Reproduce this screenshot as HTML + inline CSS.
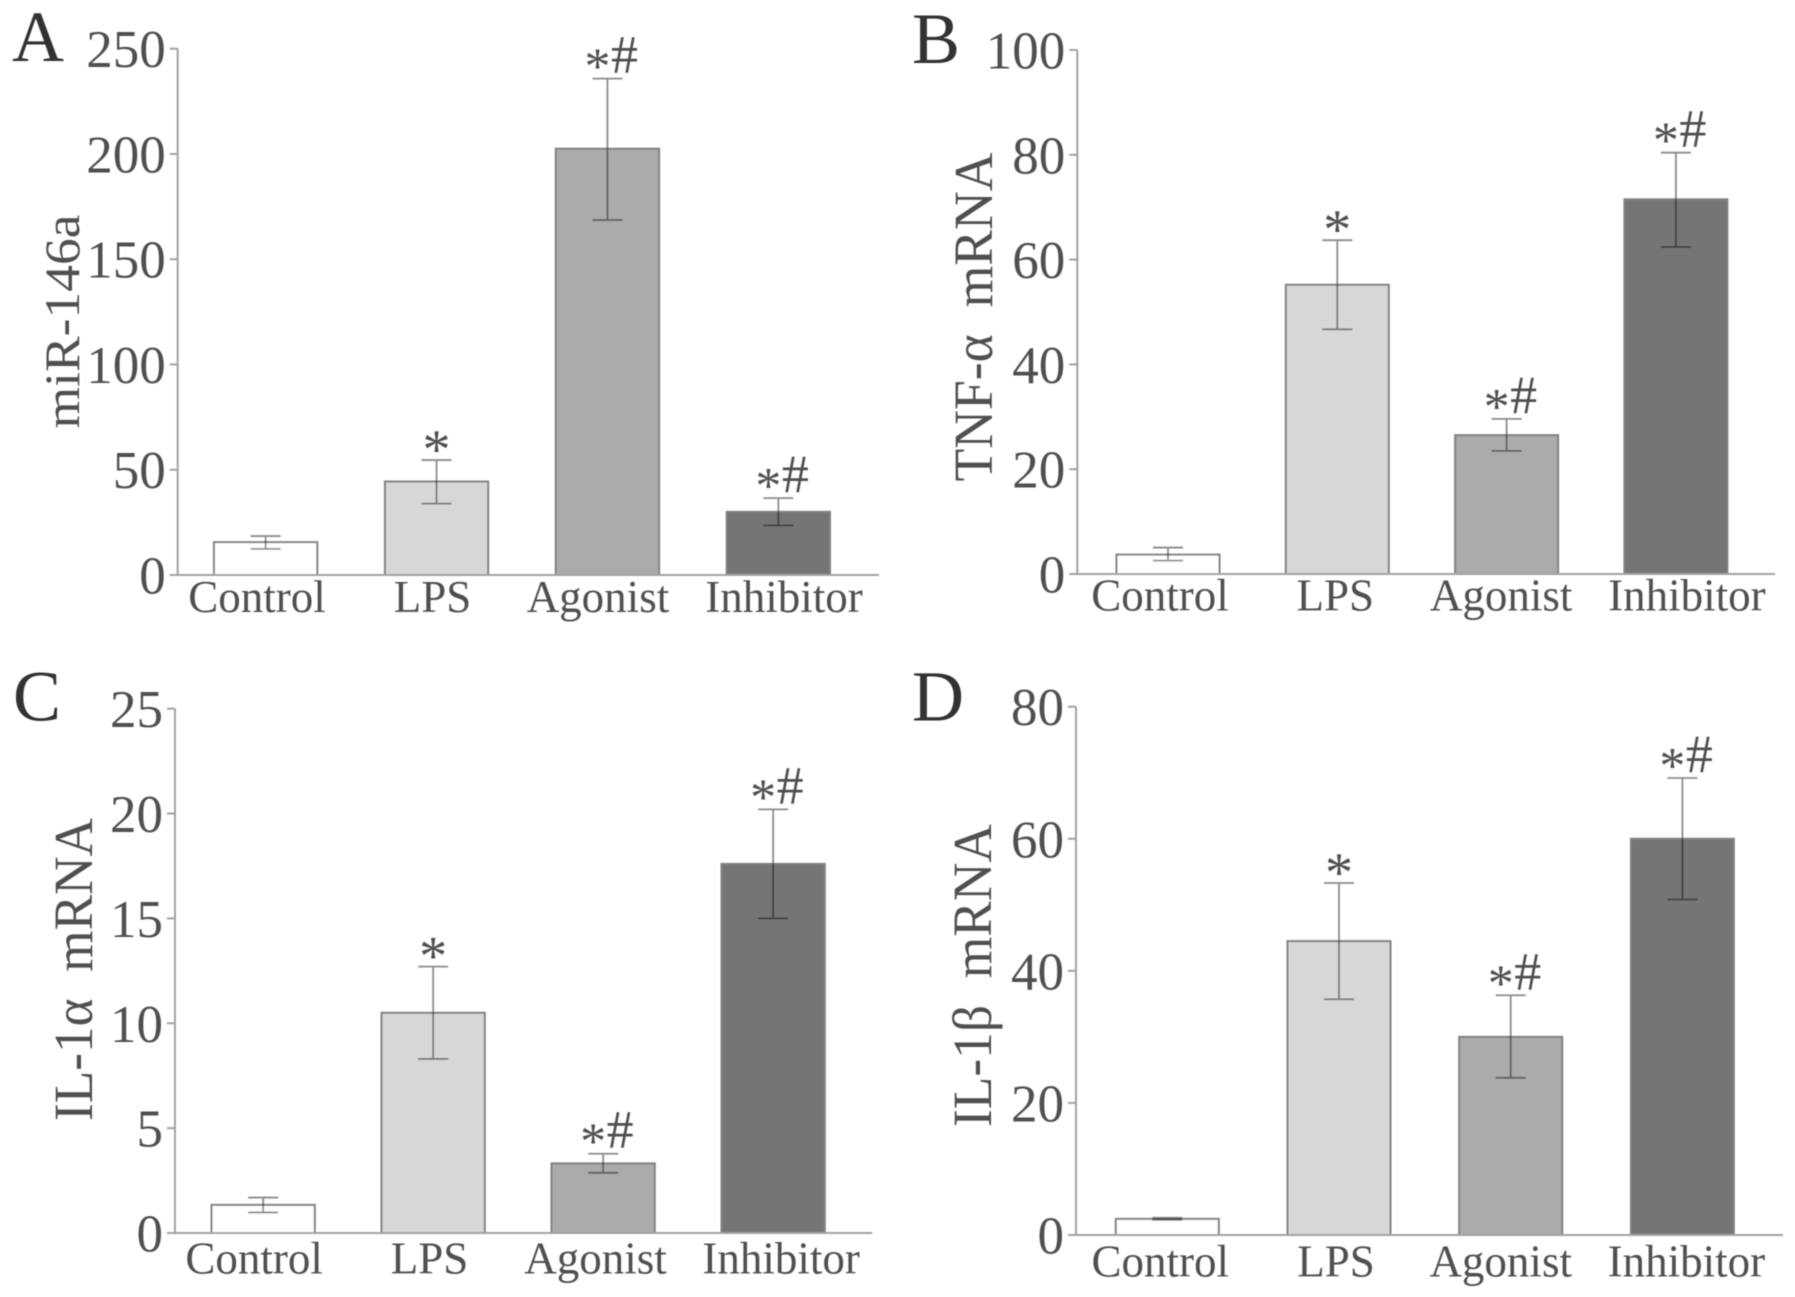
<!DOCTYPE html>
<html lang="en">
<head>
<meta charset="utf-8">
<title>miR-146a and cytokine mRNA bar charts</title>
<style>
html,body{margin:0;padding:0;background:#fff;}
svg{display:block;}
text{font-family:"Liberation Serif","DejaVu Serif",serif;fill:#505050;}
</style>
</head>
<body>
<svg id="figure" width="1795" height="1297" viewBox="0 0 1795 1297" xmlns="http://www.w3.org/2000/svg">
<defs><filter id="soft" x="-5%" y="-5%" width="110%" height="110%"><feGaussianBlur stdDeviation="0.55"/></filter></defs>
<g id="root" filter="url(#soft)"></g>
</svg>
<script>
const categories = ['Control', 'LPS', 'Agonist', 'Inhibitor'];
const marks = ['', '*', '*#', '*#'];

const ticksA = [0, 50, 100, 150, 200, 250];
const valuesA = [15.6, 44.4, 202.5, 30];
const errHighA = [18.5, 54.6, 235.8, 36.5];
const errLowA = [12.4, 33.9, 168.6, 23.5];

const ticksB = [0, 20, 40, 60, 80, 100];
const valuesB = [3.7, 55.2, 26.5, 71.5];
const errHighB = [5.05, 63.7, 29.6, 80.4];
const errLowB = [2.55, 46.7, 23.5, 62.4];

const ticksC = [0, 5, 10, 15, 20, 25];
const valuesC = [1.34, 10.5, 3.32, 17.6];
const errHighC = [1.69, 12.7, 3.78, 20.2];
const errLowC = [0.98, 8.3, 2.87, 15.0];

const ticksD = [0, 20, 40, 60, 80];
const valuesD = [2.44, 44.5, 30, 60];
const errHighD = [2.6, 53.3, 36.3, 69.2];
const errLowD = [2.3, 35.7, 23.8, 50.8];

const barFills = ['#ffffff', '#d7d7d7', '#ababab', '#747474'];
const NS = 'http://www.w3.org/2000/svg';
const root = document.getElementById('root');

function make(tag, parent, attrs, content) {
  const el = document.createElementNS(NS, tag);
  for (const k in attrs) el.setAttribute(k, attrs[k]);
  if (content !== undefined) el.textContent = content;
  parent.appendChild(el);
  return el;
}

function drawPanel(p) {
  const yMax = p.ticks[p.ticks.length - 1];
  const yScale = v => p.bottom - (v / yMax) * (p.bottom - p.top);
  const barX = i => p.barStart + i * p.barStep;
  const barCenter = i => barX(i) + p.barWidth / 2;

  const g = make('g', root, {});
  
  

  const letter = make('text', g, {x: p.letterX, y: p.letterY, 'font-size': 72, style: 'fill:#333'}, p.letter);
  
  

  const title = make('text', g, {
    transform: 'translate(' + p.titleX + ',' + p.titleY + ') rotate(-90)',
    'text-anchor': 'middle', 'font-size': p.titleSize,
    textLength: p.titleLength, lengthAdjust: 'spacingAndGlyphs'
  }, p.title);
  
  

  categories.forEach((name, i) => {
    const bar = make('rect', g, {
      x: barX(i), y: yScale(p.values[i]), width: p.barWidth,
      height: p.bottom - yScale(p.values[i]),
      fill: barFills[i], stroke: '#828282', 'stroke-width': 2
    });
    
    

    const cx = barCenter(i);
    const hi = yScale(p.errHigh[i]);
    const lo = yScale(p.errLow[i]);
    const err = make('path', g, {
      d: 'M' + cx + ' ' + hi + 'V' + lo + 'M' + (cx - 15) + ' ' + hi + 'H' + (cx + 15) + 'M' + (cx - 15) + ' ' + lo + 'H' + (cx + 15),
      fill: 'none', stroke: '#000', 'stroke-opacity': 0.45, 'stroke-width': 1.8
    });
    
    

    const mark = marks[i];
    if (mark === '*') {
      const star = make('text', g, {x: cx, y: hi + 8, 'text-anchor': 'middle', 'font-size': 56}, '*');
      
      
    } else if (mark === '*#') {
      const star = make('text', g, {x: cx - 10, y: hi + 5, 'text-anchor': 'middle', 'font-size': 52}, '*');
      
      
      const hash = make('text', g, {x: cx + 17, y: hi - 6, 'text-anchor': 'middle', 'font-size': 54}, '#');
      
      
    }

    const label = make('text', g, {
      x: cx + p.labelShift[i], y: p.labelY, 'text-anchor': 'middle', 'font-size': 45
    }, name);
    
    
  });

  const yAxis = make('line', g, {x1: p.axisX, x2: p.axisX, y1: p.top, y2: p.bottom, stroke: '#a2a2a2', 'stroke-width': 2});
  
  

  const xAxis = make('line', g, {x1: p.axisX - 8, x2: p.axisEnd, y1: p.bottom, y2: p.bottom, stroke: '#a2a2a2', 'stroke-width': 2});
  
  

  p.ticks.forEach(t => {
    const y = yScale(t);
    const tick = make('line', g, {x1: p.axisX - 8, x2: p.axisX, y1: y, y2: y, stroke: '#a2a2a2', 'stroke-width': 2});
    
    
    const lab = make('text', g, {x: p.axisX - 12, y: y + 18.5, 'text-anchor': 'end', 'font-size': 53}, String(t));
    
    
  });
}

drawPanel({letter: 'A', letterX: 12, letterY: 61, title: 'miR-146a', titleX: 79, titleY: 321.5, titleLength: 214, titleSize: 50,
  axisX: 177.7, axisEnd: 879, top: 48.7, bottom: 575, barStart: 214, barStep: 170.9, barWidth: 103.3, labelY: 612, labelShift: [-8.7, -4, -9.5, 5.7],
  ticks: ticksA, values: valuesA, errHigh: errHighA, errLow: errLowA});

drawPanel({letter: 'B', letterX: 912, letterY: 63, title: 'TNF-α\u00a0\u00a0mRNA', titleX: 992, titleY: 317, titleLength: 329, titleSize: 55,
  axisX: 1077.3, axisEnd: 1775, top: 50, bottom: 574, barStart: 1116.5, barStep: 169.3, barWidth: 103, labelY: 610.5, labelShift: [-8, -2, -5.5, 11],
  ticks: ticksB, values: valuesB, errHigh: errHighB, errLow: errLowB});

drawPanel({letter: 'C', letterX: 13, letterY: 720.7, title: 'IL-1α\u00a0\u00a0mRNA', titleX: 92, titleY: 969.5, titleLength: 303, titleSize: 55,
  axisX: 175, axisEnd: 872.3, top: 708.7, bottom: 1233, barStart: 211.5, barStep: 170, barWidth: 103.3, labelY: 1273.5, labelShift: [-9, -3.6, -7.6, 8],
  ticks: ticksC, values: valuesC, errHigh: errHighC, errLow: errLowC});

drawPanel({letter: 'D', letterX: 912, letterY: 720.7, title: 'IL-1β\u00a0\u00a0mRNA', titleX: 991, titleY: 975.5, titleLength: 303, titleSize: 55,
  axisX: 1076, axisEnd: 1783, top: 706.7, bottom: 1235, barStart: 1115.8, barStep: 171.7, barWidth: 103, labelY: 1276.5, labelShift: [-7, -3, -10, 4],
  ticks: ticksD, values: valuesD, errHigh: errHighD, errLow: errLowD});
</script>
</body>
</html>
